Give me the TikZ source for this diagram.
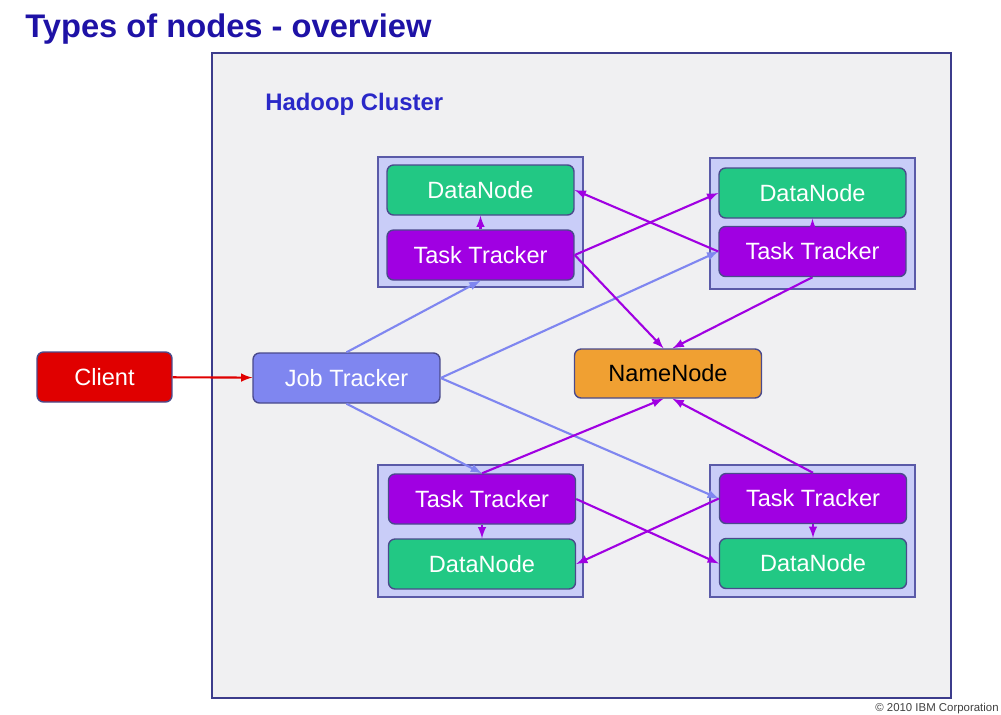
\documentclass[tikz,border=0pt]{standalone}
\usepackage{fontspec}
\setmainfont{Liberation Sans}
\definecolor{titleblue}{HTML}{1E12A6}
\definecolor{clusterblue}{HTML}{2A28C8}
\definecolor{clusterfill}{HTML}{F0F0F2}
\definecolor{clusterline}{HTML}{3C3C8C}
\definecolor{groupfill}{HTML}{C9CDF8}
\definecolor{groupline}{HTML}{5A5AA8}
\definecolor{nodeline}{HTML}{4A4A8C}
\definecolor{datagreen}{HTML}{22C884}
\definecolor{taskpurple}{HTML}{A000E2}
\definecolor{jobblue}{HTML}{7F86F0}
\definecolor{clientred}{HTML}{E00000}
\definecolor{nameorange}{HTML}{F0A032}
\def\boxw{3.74cm}
\def\boxh{1cm}

\begin{document}
\begin{tikzpicture}[x=0.02cm,y=-0.02cm,
  box/.style={draw=nodeline,line width=0.8pt,rounded corners=0.13cm,
    minimum width=\boxw,minimum height=\boxh,text=white,font=\fontsize{13.4}{15}\selectfont},
  data/.style={box,fill=datagreen},
  task/.style={box,fill=taskpurple},
  group/.style={draw=groupline,line width=1.1pt,fill=groupfill},
  jobarrow/.style={-latex,draw=jobblue,line width=1.2pt},
  taskarrow/.style={-latex,draw=taskpurple,line width=1.2pt}]

\useasboundingbox (0,0) rectangle (1001,714);

\node[anchor=base west,inner sep=0,text=titleblue,font=\fontsize{18.6}{22}\selectfont\bfseries] (T) at (25,37) {Types of nodes - overview};
\node[anchor=base east,inner sep=0,font=\fontsize{6.5}{7}\selectfont,text=black!75] (C) at (999,711) {\copyright\ 2010 IBM Corporation};

\draw[draw=clusterline,line width=1pt,fill=clusterfill] (212,53) rectangle (951,698);
\node[anchor=west,inner sep=0,text=clusterblue,font=\fontsize{13.6}{16}\selectfont\bfseries] (H) at (265,104) {Hadoop Cluster};

\draw[group] (378,157) rectangle (583,287);
\draw[group] (710,158) rectangle (915,289);
\draw[group] (378,465) rectangle (583,597);
\draw[group] (710,465) rectangle (915,597);

\node[data] (D1) at (480.5,190) {DataNode};
\node[task] (T1) at (480.5,255) {Task Tracker};
\node[data] (D2) at (812.5,193) {DataNode};
\node[task] (T2) at (812.5,251.5) {Task Tracker};
\node[task] (T3) at (482,499) {Task Tracker};
\node[data] (D3) at (482,564) {DataNode};
\node[task] (T4) at (813,498.5) {Task Tracker};
\node[data] (D4) at (813,563.5) {DataNode};

\node[box,fill=nameorange,text=black,minimum height=0.98cm] (NN) at (668,373.5) {NameNode};
\node[box,fill=jobblue] (JT) at (346.5,378) {Job Tracker};
\node[box,fill=clientred,minimum width=2.7cm] (CL) at (104.5,377) {Client};

\draw[-latex,draw=clientred,line width=1.2pt] (CL) -- (JT);

\draw[jobarrow] (JT.north) -- (T1.south);
\draw[jobarrow] (JT.east) -- (T2.west);
\draw[jobarrow] (JT.south) -- (T3.north);
\draw[jobarrow] (JT.east) -- (T4.west);

\draw[taskarrow] (T1) -- (D1);
\draw[taskarrow] (T2) -- (D2);
\draw[taskarrow] (T3) -- (D3);
\draw[taskarrow] (T4) -- (D4);

\draw[taskarrow] (T1.east) -- (D2.west);
\draw[taskarrow] (T2.west) -- (D1.east);
\draw[taskarrow] (T3.east) -- (D4.west);
\draw[taskarrow] (T4.west) -- (D3.east);

\draw[taskarrow] (T1.east) -- (NN.100);
\draw[taskarrow] (T2.south) -- (NN.80);
\draw[taskarrow] (T3.north) -- (NN.260);
\draw[taskarrow] (T4.north) -- (NN.280);

\end{tikzpicture}
\end{document}
